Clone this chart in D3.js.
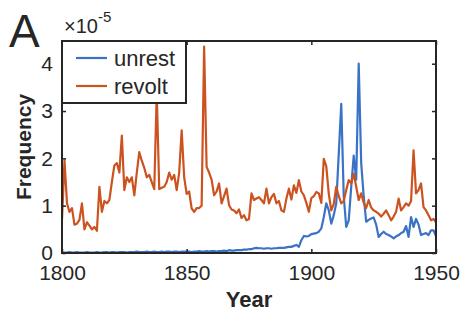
<!DOCTYPE html>
<html>
<head>
<meta charset="utf-8">
<script src="https://cdn.jsdelivr.net/npm/d3@7"></script>
<style>
  * { margin: 0; padding: 0; }
  body { background: #fff; }
  svg text { font-family: "Liberation Sans", Arial, sans-serif; fill: #262626; }
</style>
</head>
<body>
<svg id="chart" width="461" height="313"></svg>
<script>
// years 1800..1950, values in units of 1e-5
var startYear = 1800;
var revolt = [
  0.70,1.96,1.05,0.87,0.95,0.60,0.62,0.70,1.05,0.50,
  0.65,0.58,0.50,0.55,0.47,1.40,0.87,1.10,1.05,1.12,
  1.50,1.85,1.90,1.70,2.48,1.33,1.60,1.50,1.60,1.22,
  1.70,2.13,1.95,1.80,1.60,1.65,1.50,1.35,3.37,1.35,
  1.38,1.40,1.50,1.70,1.55,1.65,1.33,1.70,2.59,1.60,
  1.25,1.30,0.94,0.87,0.95,0.95,1.00,4.36,1.82,1.70,
  1.55,1.22,1.30,1.47,1.05,1.20,1.36,1.01,0.92,0.90,
  0.84,0.92,0.74,0.80,0.69,0.72,1.26,1.12,1.15,1.18,
  1.12,1.05,1.36,1.05,1.18,1.25,1.05,1.10,0.90,0.87,
  1.15,1.36,1.13,1.43,1.27,1.54,1.30,1.22,1.06,0.87,
  1.16,1.20,1.29,1.26,1.06,1.99,1.83,1.25,0.90,1.04,
  1.40,1.20,1.05,1.10,1.33,1.54,1.47,1.68,1.40,1.12,
  1.26,1.06,0.95,1.12,0.96,0.90,0.87,0.83,0.77,0.83,
  0.90,0.80,0.69,0.77,0.87,1.15,0.90,0.97,1.05,1.00,
  1.10,2.17,1.26,1.33,1.47,0.97,0.90,0.80,0.69,0.72,
  0.65
];
var unrest = [
  0.01,0.01,0.01,0.02,0.01,0.01,0.02,0.01,0.01,0.01,
  0.02,0.01,0.01,0.01,0.02,0.01,0.01,0.02,0.02,0.01,
  0.02,0.02,0.01,0.02,0.02,0.02,0.01,0.02,0.02,0.02,
  0.03,0.02,0.02,0.02,0.03,0.02,0.02,0.03,0.02,0.02,
  0.03,0.02,0.03,0.03,0.02,0.03,0.03,0.02,0.03,0.03,
  0.03,0.03,0.02,0.03,0.03,0.04,0.03,0.03,0.04,0.03,
  0.04,0.04,0.03,0.04,0.04,0.05,0.04,0.06,0.05,0.05,
  0.06,0.06,0.06,0.07,0.07,0.08,0.08,0.10,0.11,0.10,
  0.10,0.09,0.10,0.10,0.09,0.10,0.10,0.11,0.11,0.11,
  0.12,0.13,0.13,0.15,0.17,0.13,0.27,0.36,0.35,0.36,
  0.40,0.41,0.42,0.45,0.52,0.76,1.05,0.90,0.62,0.80,
  1.05,2.10,3.15,1.20,0.55,0.69,1.40,2.06,1.55,4.00,
  1.90,1.20,0.66,0.70,0.73,0.75,0.60,0.34,0.40,0.45,
  0.40,0.38,0.35,0.31,0.35,0.38,0.42,0.45,0.57,0.34,
  0.76,0.55,0.72,0.60,0.38,0.40,0.42,0.38,0.48,0.48,
  0.36
];
var xTicks = [1800, 1850, 1900, 1950];
var yTicks = [0, 1, 2, 3, 4];
var seriesNames = ["unrest", "revolt"];
var seriesColors = ["#3a72c6", "#cc5220"];

var svg = d3.select("#chart");
var m = {left: 62, right: 25, top: 41, bottom: 60};
var W = 461, H = 313;
var x = d3.scaleLinear().domain([1800, 1950]).range([m.left, W - m.right]);
var y = d3.scaleLinear().domain([0, 4.48]).range([H - m.bottom, m.top]);

var line = d3.line()
  .x(function(d, i) { return x(startYear + i); })
  .y(function(d) { return y(d); });

svg.append("clipPath").attr("id", "clip")
  .append("rect")
  .attr("x", m.left).attr("y", m.top)
  .attr("width", x(1950) - m.left).attr("height", y(0) - m.top);

var plot = svg.append("g").attr("clip-path", "url(#clip)");
[unrest, revolt].forEach(function(s, k) {
  plot.append("path")
    .datum(s)
    .attr("d", line)
    .attr("fill", "none")
    .attr("stroke", seriesColors[k])
    .attr("stroke-width", 2.2)
    .attr("stroke-linejoin", "round");
});

// axes, ticks inward on all four sides
var tickLen = 4;
var axisColor = "#262626";
function styleAxis(g) {
  g.select(".domain").remove();
  g.selectAll(".tick line").attr("stroke", axisColor).attr("stroke-width", 1.5);
  g.selectAll(".tick text").attr("font-size", "21px").attr("fill", axisColor);
}
svg.append("g").attr("transform", "translate(0," + y(0) + ")")
  .call(d3.axisBottom(x).tickValues(xTicks).tickFormat(d3.format("d")).tickSizeInner(-tickLen).tickPadding(12))
  .call(styleAxis);
svg.append("g").attr("transform", "translate(0," + m.top + ")")
  .call(d3.axisTop(x).tickValues(xTicks).tickFormat("").tickSizeInner(-tickLen))
  .call(styleAxis);
svg.append("g").attr("transform", "translate(" + m.left + ",0)")
  .call(d3.axisLeft(y).tickValues(yTicks).tickFormat(d3.format("d")).tickSizeInner(-tickLen).tickPadding(9))
  .call(styleAxis);
svg.append("g").attr("transform", "translate(" + x(1950) + ",0)")
  .call(d3.axisRight(y).tickValues(yTicks).tickFormat("").tickSizeInner(-tickLen))
  .call(styleAxis);

svg.append("rect")
  .attr("x", m.left).attr("y", m.top)
  .attr("width", x(1950) - m.left).attr("height", y(0) - m.top)
  .attr("fill", "none").attr("stroke", axisColor).attr("stroke-width", 2);

// legend
var leg = svg.append("g");
leg.append("rect")
  .attr("x", m.left).attr("y", m.top)
  .attr("width", 124).attr("height", 62)
  .attr("fill", "#fff").attr("stroke", axisColor).attr("stroke-width", 2);
seriesNames.forEach(function(name, i) {
  var ly = 58 + i * 28;
  leg.append("line")
    .attr("x1", 76).attr("x2", 107).attr("y1", ly).attr("y2", ly)
    .attr("stroke", seriesColors[i]).attr("stroke-width", 2.2);
  leg.append("text")
    .attr("x", 114).attr("y", ly + 8)
    .attr("font-size", "22px")
    .text(name);
});

// exponent label
var ex = svg.append("text").attr("x", 64).attr("y", 33).attr("font-size", "20px");
ex.append("tspan").text("\u00d710");
ex.append("tspan").attr("dy", -11).attr("font-size", "15px").text("-5");

// axis titles
svg.append("text")
  .attr("x", (m.left + x(1950)) / 2).attr("y", 307)
  .attr("text-anchor", "middle")
  .attr("font-size", "22px").attr("font-weight", "bold")
  .text("Year");
svg.append("text")
  .attr("transform", "translate(31," + ((m.top + y(0)) / 2) + ") rotate(-90)")
  .attr("text-anchor", "middle")
  .attr("font-size", "21px").attr("font-weight", "bold")
  .text("Frequency");

// panel letter
svg.append("text")
  .attr("x", 9).attr("y", 47)
  .attr("font-size", "46px")
  .text("A");
</script>
</body>
</html>
